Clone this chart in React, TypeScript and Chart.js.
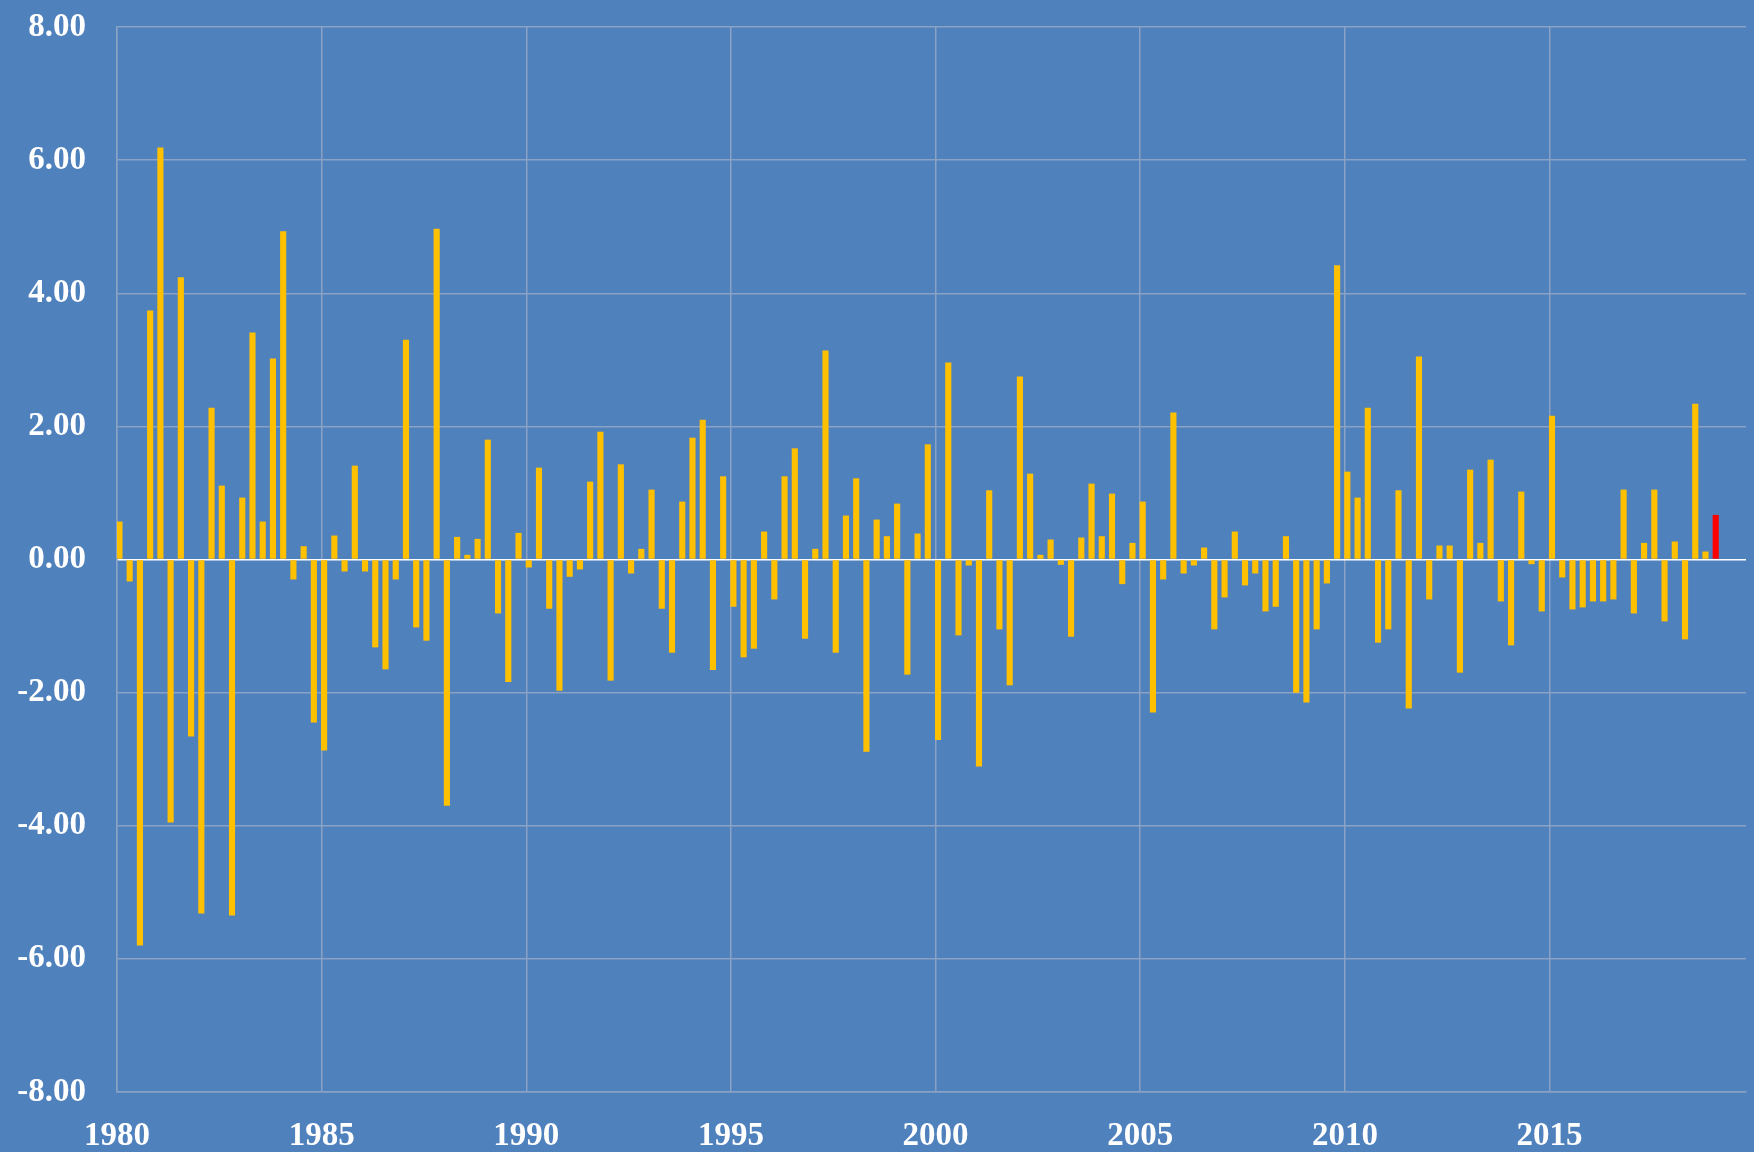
import React, { useEffect, useRef } from "react";
import { Chart, registerables } from "chart.js";

Chart.register(...registerables);

// Quarterly series, 1980 Q1 .. 2019 Q1
const startYear = 1980;
const quartersPerYear = 4;
const values: number[] = [
  0.57, -0.33, -5.8, 3.74, 6.19, -3.95, 4.24, -2.66, -5.32, 2.28,
  1.11, -5.35, 0.93, 3.41, 0.57, 3.02, 4.93, -0.3, 0.2, -2.45,
  -2.87, 0.36, -0.18, 1.41, -0.18, -1.32, -1.65, -0.3, 3.3, -1.02,
  -1.22, 4.97, -3.7, 0.34, 0.07, 0.31, 1.8, -0.81, -1.84, 0.4,
  -0.12, 1.38, -0.74, -1.97, -0.26, -0.15, 1.17, 1.92, -1.82, 1.43,
  -0.21, 0.16, 1.05, -0.74, -1.4, 0.87, 1.83, 2.1, -1.66, 1.25,
  -0.71, -1.47, -1.34, 0.42, -0.6, 1.25, 1.67, -1.19, 0.16, 3.14,
  -1.4, 0.66, 1.22, -2.89, 0.6, 0.35, 0.84, -1.73, 0.39, 1.73,
  -2.71, 2.96, -1.14, -0.09, -3.11, 1.04, -1.05, -1.89, 2.75, 1.29,
  0.07, 0.3, -0.08, -1.16, 0.33, 1.14, 0.35, 0.99, -0.37, 0.25,
  0.87, -2.3, -0.3, 2.21, -0.21, -0.09, 0.18, -1.05, -0.57, 0.42,
  -0.39, -0.21, -0.78, -0.71, 0.35, -2.0, -2.15, -1.05, -0.36, 4.42,
  1.32, 0.93, 2.28, -1.25, -1.05, 1.04, -2.24, 3.05, -0.6, 0.21,
  0.21, -1.7, 1.35, 0.25, 1.5, -0.63, -1.29, 1.02, -0.07, -0.78,
  2.16, -0.27, -0.75, -0.72, -0.63, -0.63, -0.6, 1.05, -0.81, 0.25,
  1.05, -0.93, 0.27, -1.2, 2.34, 0.12, 0.67,
];
const xMin = 1980;
const xMax = 2019.8;
const xStep = 5;
const yMin = -8;
const yMax = 8;
const yStep = 2;

const BG = "#4F81BD";
const BAR = "#FFC000";
const HIGHLIGHT = "#FF0000";
const GRID = "#8AA2C3";
const FONT = "'Liberation Serif', 'DejaVu Serif', serif";

export default function App() {
  const ref = useRef<HTMLCanvasElement>(null);
  useEffect(() => {
    document.body.style.margin = "0";
    document.body.style.background = BG;
    const lastIndex = values.length - 1;
    const points = values.map((v, i) => ({
      x: startYear + i / quartersPerYear + 0.06,
      y: v,
    }));
    const chart = new Chart(ref.current as HTMLCanvasElement, {
      type: "bar",
      data: {
        datasets: [
          {
            data: points as any,
            backgroundColor: values.map((_, i) => (i === lastIndex ? HIGHLIGHT : BAR)),
            borderWidth: 0,
            barPercentage: 0.6,
            categoryPercentage: 1,
          },
        ],
      },
      options: {
        animation: false,
        responsive: false,
        maintainAspectRatio: false,
        layout: { padding: { top: 27, right: 8, left: 0, bottom: 0 } },
        plugins: { legend: { display: false }, tooltip: { enabled: false } },
        scales: {
          x: {
            type: "linear",
            min: xMin,
            max: xMax,
            offset: false,
            grid: { color: GRID, lineWidth: 1.5, drawTicks: false, offset: false },
            border: { color: GRID, width: 1.5 },
            ticks: {
              stepSize: xStep,
              includeBounds: false,
              autoSkip: false,
              maxRotation: 0,
              padding: 25,
              color: "#FFFFFF",
              font: { family: FONT, size: 33, weight: "bold" },
              callback: (v: any) => String(v),
            },
            afterFit: (s: any) => {
              s.height = 60;
              s.paddingLeft = 0;
              s.paddingRight = 0;
            },
          },
          y: {
            min: yMin,
            max: yMax,
            grid: {
              color: (c: any) => (c.tick && c.tick.value === 0 ? "#FFFFFF" : GRID),
              lineWidth: 1.5,
              drawTicks: false,
            },
            border: { color: GRID, width: 1.5 },
            ticks: {
              stepSize: yStep,
              padding: 31,
              color: "#FFFFFF",
              font: { family: FONT, size: 33, weight: "bold" },
              callback: (v: any) => Number(v).toFixed(2),
            },
            afterFit: (s: any) => {
              s.width = 117;
              s.paddingTop = 0;
              s.paddingBottom = 0;
            },
          },
        },
      },
    });
    return () => chart.destroy();
  }, []);
  return (
    <div style={{ width: 1754, height: 1152, background: BG }}>
      <canvas ref={ref} width={1754} height={1152} style={{ display: "block" }} />
    </div>
  );
}
